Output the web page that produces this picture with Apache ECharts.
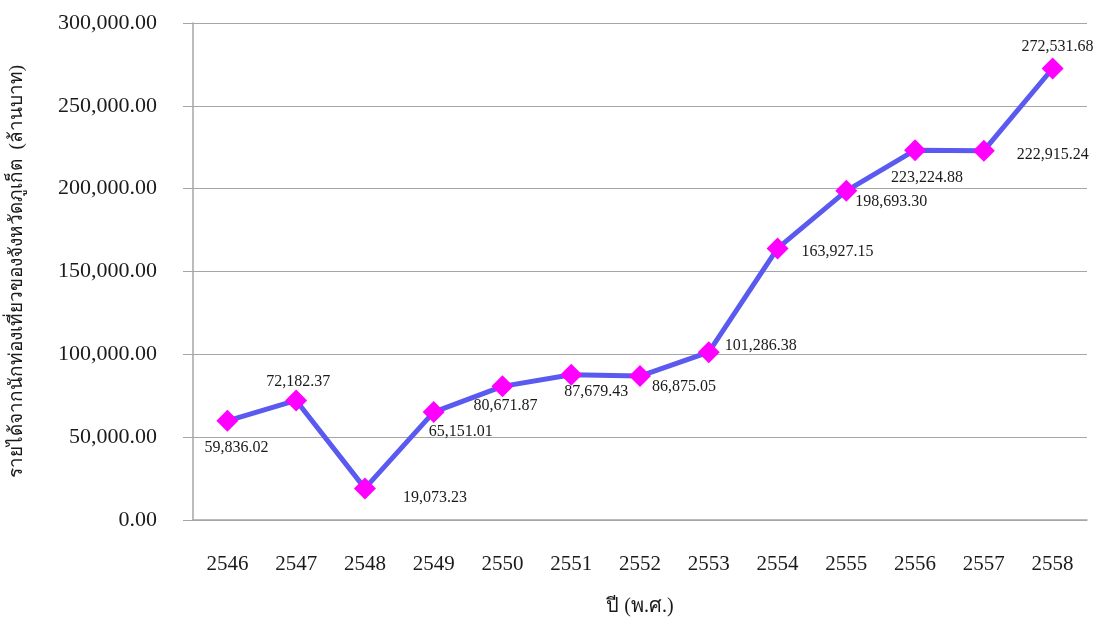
<!DOCTYPE html>
<html>
<head>
<meta charset="utf-8">
<script src="https://cdn.jsdelivr.net/npm/echarts@6/dist/echarts.min.js"></script>
<style>
  html, body { margin: 0; padding: 0; background: #fff; }
  #chart { width: 1095px; height: 620px; }
</style>
</head>
<body>
<div id="chart"></div>
<script>
var years = ['2546', '2547', '2548', '2549', '2550', '2551', '2552', '2553', '2554', '2555', '2556', '2557', '2558'];
var income = [59836.02, 72182.37, 19073.23, 65151.01, 80671.87, 87679.43, 86875.05, 101286.38, 163927.15, 198693.30, 223224.88, 222915.24, 272531.68];
var yTicks = [0, 50000, 100000, 150000, 200000, 250000, 300000];

// where each value label sits relative to its marker (px)
var labelOffsets = [[9, 27], [2, -19], [70, 9], [27, 20], [3, 19], [25, 17], [44, 11], [52, -6], [60, 3], [45, 11], [12, 28], [69, 4], [5, -22]];

function fmt(v) {
    return v.toLocaleString('en-US', { minimumFractionDigits: 2, maximumFractionDigits: 2 });
}

var serif = '"Liberation Serif", "Noto Sans", serif';

var points = income.map(function (v, i) {
    return {
        value: v,
        label: { offset: labelOffsets[i] }
    };
});

var myChart = echarts.init(document.getElementById('chart'));
var option = {
    backgroundColor: '#fff',
    animation: false,
    grid: { left: 193, right: 8, top: 23, bottom: 100, outerBoundsMode: 'none', containLabel: false },
    xAxis: {
        type: 'category',
        data: years,
        name: 'ปี (พ.ศ.)',
        nameLocation: 'middle',
        nameGap: 77,
        nameTextStyle: { fontFamily: serif, fontSize: 20, color: '#1a1a1a' },
        axisLine: { lineStyle: { color: '#a6a6a6', width: 1.5 } },
        axisTick: { show: false },
        axisLabel: { fontFamily: serif, fontSize: 21, color: '#1a1a1a', margin: 34 }
    },
    yAxis: {
        type: 'value',
        min: yTicks[0],
        max: yTicks[yTicks.length - 1],
        interval: yTicks[1] - yTicks[0],
        name: 'รายได้จากนักท่องเที่ยวของจังหวัดภูเก็ต  (ล้านบาท)',
        nameLocation: 'middle',
        nameGap: 166,
        nameTextStyle: { fontFamily: serif, fontSize: 19, color: '#1a1a1a' },
        axisLine: { show: true, lineStyle: { color: '#a6a6a6', width: 1.5 } },
        axisTick: { show: true, length: 10, lineStyle: { color: '#a6a6a6' } },
        axisLabel: { fontFamily: serif, fontSize: 22, color: '#1a1a1a', margin: 36, formatter: fmt },
        splitLine: { lineStyle: { color: '#a6a6a6', width: 1 } }
    },
    series: [{
        type: 'line',
        data: points,
        symbol: 'diamond',
        symbolSize: 22,
        lineStyle: { color: '#5a5af0', width: 5 },
        itemStyle: { color: '#ff00ff' },
        label: {
            show: true,
            position: 'inside',
            align: 'center',
            verticalAlign: 'middle',
            fontFamily: serif,
            fontSize: 16,
            color: '#1a1a1a',
            formatter: function (p) { return fmt(p.value); }
        }
    }]
};
myChart.setOption(option);
</script>
</body>
</html>
